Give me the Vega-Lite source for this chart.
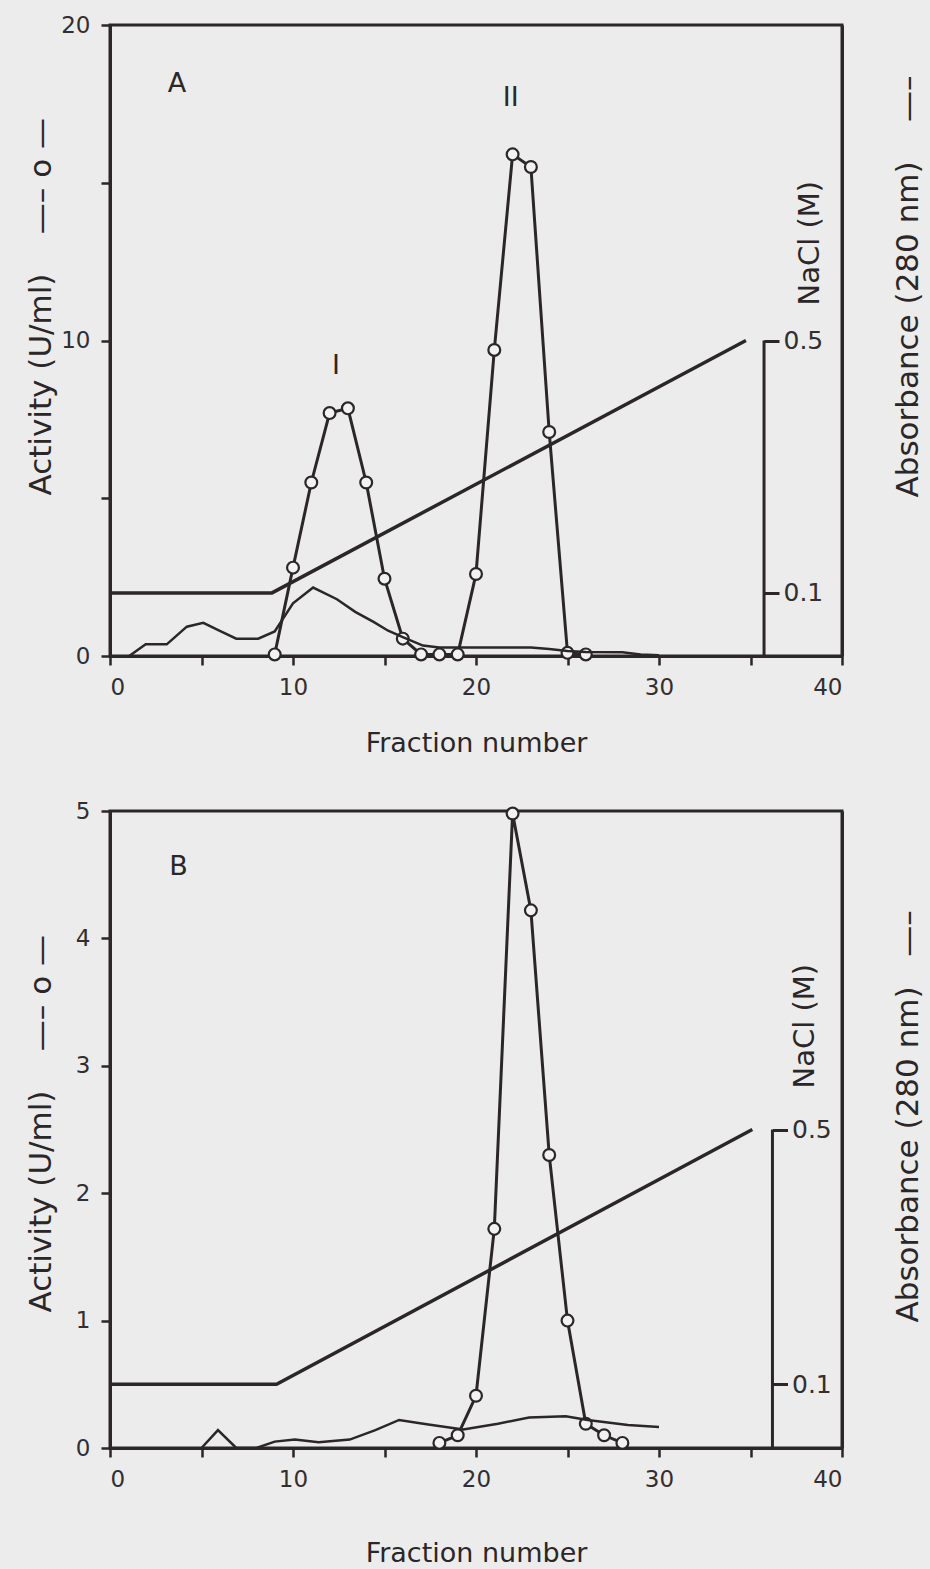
{
  "$schema": "https://vega.github.io/schema/vega-lite/v6.json",
  "background": "#ececec",
  "padding": {"left": 23, "top": 12, "right": 5, "bottom": 5},
  "config": {
    "font": "DejaVu Sans",
    "view": {"stroke": "#2b2627", "strokeWidth": 3},
    "axis": {
      "domainColor": "#2b2627", "domainWidth": 3,
      "tickColor": "#2b2627", "tickWidth": 2.5, "tickSize": 9,
      "labelFontSize": 23, "labelColor": "#332e2f", "labelPadding": 11,
      "labelFont": "DejaVu Sans", "titleFont": "DejaVu Sans",
      "titleColor": "#2b2627", "titleFontWeight": "normal", "grid": false
    }
  },
  "datasets": {
    "actA": [
      {"fraction": 9, "activity": 0.05}, {"fraction": 10, "activity": 2.8}, {"fraction": 11, "activity": 5.5},
      {"fraction": 12, "activity": 7.7}, {"fraction": 13, "activity": 7.85}, {"fraction": 14, "activity": 5.5},
      {"fraction": 15, "activity": 2.45}, {"fraction": 16, "activity": 0.55}, {"fraction": 17, "activity": 0.05},
      {"fraction": 18, "activity": 0.05}, {"fraction": 19, "activity": 0.05}, {"fraction": 20, "activity": 2.6},
      {"fraction": 21, "activity": 9.7}, {"fraction": 22, "activity": 15.9}, {"fraction": 23, "activity": 15.5},
      {"fraction": 24, "activity": 7.1}, {"fraction": 25, "activity": 0.1}, {"fraction": 26, "activity": 0.05}
    ],
    "labA": [
      {"fraction": 3.66, "activity": 18.13, "label": "A"},
      {"fraction": 12.35, "activity": 9.2, "label": "I"},
      {"fraction": 21.9, "activity": 17.7, "label": "II"}
    ],
    "gradA": [
      {"fraction": 0, "nacl": 0.1}, {"fraction": 8.85, "nacl": 0.1}, {"fraction": 34.75, "nacl": 0.5}
    ],
    "barA": [{"fraction": 35.74, "nacl": 0, "nacl2": 0.5}],
    "absA": [
      {"fraction": 1.05, "abs": 0}, {"fraction": 1.95, "abs": 0.037}, {"fraction": 3.1, "abs": 0.037},
      {"fraction": 4.2, "abs": 0.093}, {"fraction": 5.1, "abs": 0.105}, {"fraction": 6.0, "abs": 0.08},
      {"fraction": 6.9, "abs": 0.055}, {"fraction": 8.1, "abs": 0.055}, {"fraction": 9.0, "abs": 0.078},
      {"fraction": 10.0, "abs": 0.167}, {"fraction": 11.1, "abs": 0.217}, {"fraction": 12.4, "abs": 0.18},
      {"fraction": 13.4, "abs": 0.14}, {"fraction": 14.4, "abs": 0.108}, {"fraction": 15.2, "abs": 0.08},
      {"fraction": 16.0, "abs": 0.06}, {"fraction": 17.1, "abs": 0.033}, {"fraction": 18.0, "abs": 0.027},
      {"fraction": 23.0, "abs": 0.027}, {"fraction": 24.0, "abs": 0.022}, {"fraction": 25.0, "abs": 0.016},
      {"fraction": 26.0, "abs": 0.013}, {"fraction": 28.0, "abs": 0.012}, {"fraction": 29.0, "abs": 0.005},
      {"fraction": 30.0, "abs": 0.002}
    ],
    "actB": [
      {"fraction": 18, "activity": 0.04}, {"fraction": 19, "activity": 0.1}, {"fraction": 20, "activity": 0.41},
      {"fraction": 21, "activity": 1.72}, {"fraction": 22, "activity": 4.98}, {"fraction": 23, "activity": 4.22},
      {"fraction": 24, "activity": 2.3}, {"fraction": 25, "activity": 1.0}, {"fraction": 26, "activity": 0.19},
      {"fraction": 27, "activity": 0.1}, {"fraction": 28, "activity": 0.04}
    ],
    "labB": [{"fraction": 3.74, "activity": 4.56, "label": "B"}],
    "gradB": [
      {"fraction": 0, "nacl": 0.1}, {"fraction": 9.1, "nacl": 0.1}, {"fraction": 35.1, "nacl": 0.5}
    ],
    "barB": [{"fraction": 36.2, "nacl": 0, "nacl2": 0.5}],
    "absB": [
      {"fraction": 5.0, "abs": 0}, {"fraction": 5.9, "abs": 0.014}, {"fraction": 6.9, "abs": 0},
      {"fraction": 8.0, "abs": 0}, {"fraction": 9.0, "abs": 0.005}, {"fraction": 10.1, "abs": 0.0066},
      {"fraction": 11.4, "abs": 0.0045}, {"fraction": 13.1, "abs": 0.0066}, {"fraction": 14.5, "abs": 0.014},
      {"fraction": 15.8, "abs": 0.022}, {"fraction": 17.3, "abs": 0.0186}, {"fraction": 19.3, "abs": 0.0145},
      {"fraction": 21.2, "abs": 0.019}, {"fraction": 22.9, "abs": 0.024}, {"fraction": 24.9, "abs": 0.025},
      {"fraction": 26.1, "abs": 0.022}, {"fraction": 28.3, "abs": 0.018}, {"fraction": 30.0, "abs": 0.0165}
    ]
  },
  "spacing": 155,
  "bounds": "flush",
  "vconcat": [
    {
      "width": 732,
      "height": 631,
      "encoding": {
        "x": {
          "field": "fraction", "type": "quantitative",
          "scale": {"domain": [0, 40], "nice": false},
          "axis": {
            "values": [0, 5, 10, 15, 20, 25, 30, 35, 40],
            "labelExpr": "datum.value % 10 === 0 ? datum.label : ''",
            "title": "Fraction number", "titleFontSize": 27, "titlePadding": 31
          }
        }
      },
      "layer": [
        {
          "encoding": {
            "y": {
              "field": "activity", "type": "quantitative",
              "scale": {"domain": [0, 20], "nice": false},
              "axis": {
                "orient": "left",
                "values": [0, 5, 10, 15, 20],
                "labelExpr": "datum.value % 10 === 0 ? datum.label : ''",
                "title": "Activity (U/ml)\u00a0\u00a0\u00a0\u00a0\u2014\u2013\u00a0o\u00a0\u2014",
                "titleFontSize": 31, "titleAngle": 270, "titleAlign": "left",
                "titleBaseline": "alphabetic", "titleX": -60, "titleY": 470
              }
            }
          },
          "layer": [
            {"data": {"name": "actA"}, "mark": {"type": "line", "color": "#2b2627", "strokeWidth": 3}},
            {"data": {"name": "actA"}, "mark": {"type": "point", "shape": "circle", "filled": true, "fill": "#f2f2f2", "stroke": "#2b2627", "strokeWidth": 2.2, "size": 140, "opacity": 1}},
            {"data": {"name": "labA"}, "mark": {"type": "text", "fontSize": 27, "color": "#2b2627", "align": "center", "baseline": "middle"}, "encoding": {"text": {"field": "label"}}}
          ]
        },
        {
          "encoding": {
            "y": {
              "field": "nacl", "type": "quantitative",
              "scale": {"domain": [0, 1], "nice": false},
              "axis": {
                "orient": "right", "offset": -78,
                "values": [0.1, 0.5], "format": ".1f",
                "domain": false, "tickSize": 15, "tickWidth": 3, "labelPadding": 4, "labelFontSize": 25,
                "title": "NaCl (M)", "titleFontSize": 29, "titleAngle": 270, "titleAlign": "left",
                "titleBaseline": "alphabetic", "titleX": 54, "titleY": 280
              }
            }
          },
          "layer": [
            {"data": {"name": "gradA"}, "mark": {"type": "line", "color": "#2b2627", "strokeWidth": 3.5}},
            {"data": {"name": "barA"}, "mark": {"type": "rule", "color": "#2b2627", "strokeWidth": 3}, "encoding": {"y2": {"field": "nacl2"}}}
          ]
        },
        {
          "data": {"name": "absA"},
          "mark": {"type": "line", "color": "#2b2627", "strokeWidth": 2.5},
          "encoding": {
            "y": {
              "field": "abs", "type": "quantitative",
              "scale": {"domain": [0, 2], "nice": false},
              "axis": {
                "orient": "right", "domain": true, "ticks": false, "labels": false,
                "title": "Absorbance (280 nm)\u00a0\u00a0\u00a0\u00a0\u2014\u2013",
                "titleFontSize": 31, "titleAngle": 270, "titleAlign": "left",
                "titleBaseline": "alphabetic", "titleX": 75, "titleY": 472
              }
            }
          }
        }
      ],
      "resolve": {"scale": {"y": "independent"}}
    },
    {
      "width": 732,
      "height": 637,
      "encoding": {
        "x": {
          "field": "fraction", "type": "quantitative",
          "scale": {"domain": [0, 40], "nice": false},
          "axis": {
            "values": [0, 5, 10, 15, 20, 25, 30, 35, 40],
            "labelExpr": "datum.value % 10 === 0 ? datum.label : ''",
            "title": "Fraction number", "titleFontSize": 27, "titlePadding": 49
          }
        }
      },
      "layer": [
        {
          "encoding": {
            "y": {
              "field": "activity", "type": "quantitative",
              "scale": {"domain": [0, 5], "nice": false},
              "axis": {
                "orient": "left",
                "values": [0, 1, 2, 3, 4, 5],
                "title": "Activity (U/ml)\u00a0\u00a0\u00a0\u00a0\u2014\u2013\u00a0o\u00a0\u2014",
                "titleFontSize": 31, "titleAngle": 270, "titleAlign": "left",
                "titleBaseline": "alphabetic", "titleX": -60, "titleY": 501
              }
            }
          },
          "layer": [
            {"data": {"name": "actB"}, "mark": {"type": "line", "color": "#2b2627", "strokeWidth": 3}},
            {"data": {"name": "actB"}, "mark": {"type": "point", "shape": "circle", "filled": true, "fill": "#f2f2f2", "stroke": "#2b2627", "strokeWidth": 2.2, "size": 140, "opacity": 1}},
            {"data": {"name": "labB"}, "mark": {"type": "text", "fontSize": 27, "color": "#2b2627", "align": "center", "baseline": "middle"}, "encoding": {"text": {"field": "label"}}}
          ]
        },
        {
          "encoding": {
            "y": {
              "field": "nacl", "type": "quantitative",
              "scale": {"domain": [0, 1], "nice": false},
              "axis": {
                "orient": "right", "offset": -69.5,
                "values": [0.1, 0.5], "format": ".1f",
                "domain": false, "tickSize": 15, "tickWidth": 3, "labelPadding": 4, "labelFontSize": 25,
                "title": "NaCl (M)", "titleFontSize": 29, "titleAngle": 270, "titleAlign": "left",
                "titleBaseline": "alphabetic", "titleX": 41, "titleY": 277
              }
            }
          },
          "layer": [
            {"data": {"name": "gradB"}, "mark": {"type": "line", "color": "#2b2627", "strokeWidth": 3.5}},
            {"data": {"name": "barB"}, "mark": {"type": "rule", "color": "#2b2627", "strokeWidth": 3}, "encoding": {"y2": {"field": "nacl2"}}}
          ]
        },
        {
          "data": {"name": "absB"},
          "mark": {"type": "line", "color": "#2b2627", "strokeWidth": 2.5},
          "encoding": {
            "y": {
              "field": "abs", "type": "quantitative",
              "scale": {"domain": [0, 0.5], "nice": false},
              "axis": {
                "orient": "right", "domain": true, "ticks": false, "labels": false,
                "title": "Absorbance (280 nm)\u00a0\u00a0\u00a0\u2014\u2013",
                "titleFontSize": 31, "titleAngle": 270, "titleAlign": "left",
                "titleBaseline": "alphabetic", "titleX": 75, "titleY": 511
              }
            }
          }
        }
      ],
      "resolve": {"scale": {"y": "independent"}}
    }
  ]
}
